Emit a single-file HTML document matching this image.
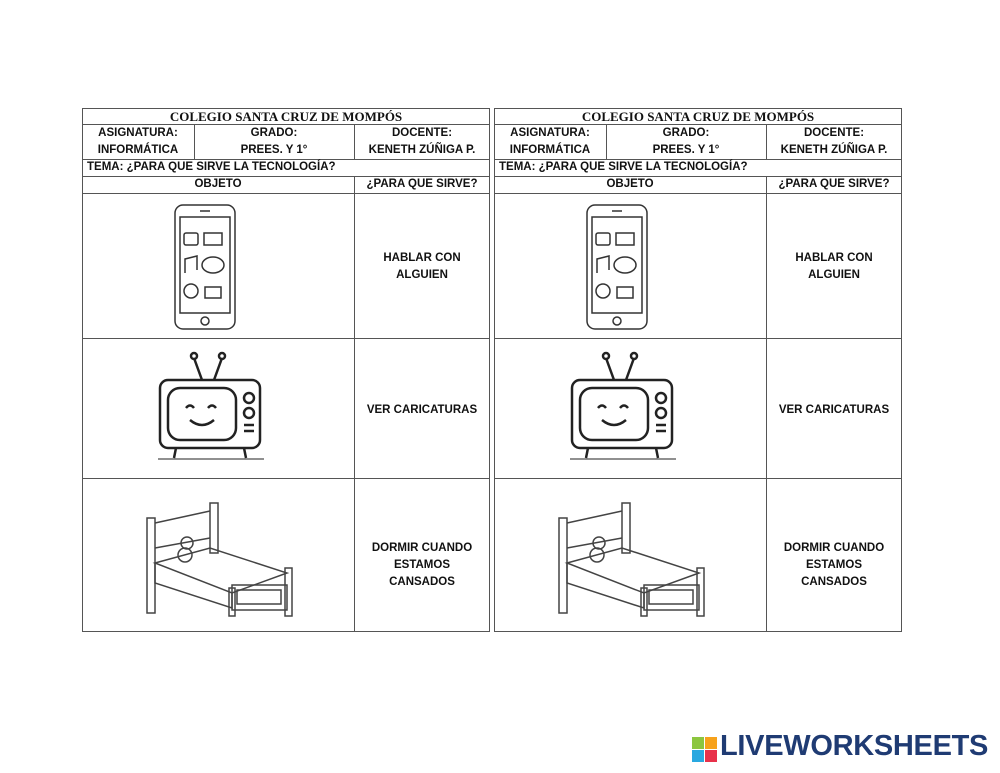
<!DOCTYPE html>
<html><head><meta charset="utf-8"><style>
body{margin:0;width:1000px;height:773px;background:#fff;position:relative;overflow:hidden;font-family:"Liberation Sans",Arial,sans-serif;}
.t{position:absolute;top:108px;width:408px;height:524px;}
.l{position:absolute;background:#555;}
.x{position:absolute;font-size:11.5px;font-weight:bold;color:#111;text-align:center;line-height:17px;}
.ti{font-family:"Liberation Serif",serif;font-size:13px;}
svg{position:absolute;}
.logo{position:absolute;font-size:29px;font-weight:900;color:#1f3b73;letter-spacing:-0.3px;}
</style></head><body>

<div class="t" style="left:82px">
 <div class="l" style="left:0;top:0;width:408px;height:1px"></div>
 <div class="l" style="left:0;top:16px;width:408px;height:1px"></div>
 <div class="l" style="left:0;top:51px;width:408px;height:1px"></div>
 <div class="l" style="left:0;top:68px;width:408px;height:1px"></div>
 <div class="l" style="left:0;top:85px;width:408px;height:1px"></div>
 <div class="l" style="left:0;top:230px;width:408px;height:1px"></div>
 <div class="l" style="left:0;top:370px;width:408px;height:1px"></div>
 <div class="l" style="left:0;top:523px;width:408px;height:1px"></div>
 <div class="l" style="left:0;top:0;width:1px;height:524px"></div>
 <div class="l" style="left:407px;top:0;width:1px;height:524px"></div>
 <div class="l" style="left:112px;top:16px;width:1px;height:35px"></div>
 <div class="l" style="left:272px;top:16px;width:1px;height:35px"></div>
 <div class="l" style="left:272px;top:68px;width:1px;height:456px"></div>
 <div class="x ti" style="left:0;top:0;width:408px;">COLEGIO SANTA CRUZ DE MOMPÓS</div>
 <div class="x" style="left:0;top:17px;width:112px;">ASIGNATURA:<br>INFORMÁTICA</div>
 <div class="x" style="left:112px;top:17px;width:160px;">GRADO:<br>PREES. Y 1°</div>
 <div class="x" style="left:272px;top:17px;width:136px;">DOCENTE:<br>KENETH ZÚÑIGA P.</div>
 <div class="x" style="left:5px;top:51px;text-align:left;">TEMA: ¿PARA QUE SIRVE LA TECNOLOGÍA?</div>
 <div class="x" style="left:0;top:68px;width:272px;">OBJETO</div>
 <div class="x" style="left:272px;top:68px;width:136px;">¿PARA QUE SIRVE?</div>
 <div class="x" style="left:272px;top:142px;width:136px;">HABLAR CON<br>ALGUIEN</div>
 <div class="x" style="left:272px;top:294px;width:136px;">VER CARICATURAS</div>
 <div class="x" style="left:272px;top:432px;width:136px;">DORMIR CUANDO<br>ESTAMOS<br>CANSADOS</div>
 <svg style="left:88px;top:95px" width="70" height="130" viewBox="0 0 70 130" fill="none" stroke="#333" stroke-width="1.5">
  <rect x="5" y="2" width="60" height="124" rx="8"/><rect x="10" y="14" width="50" height="96"/>
  <circle cx="35" cy="118" r="4"/><line x1="30" y1="8" x2="40" y2="8"/>
  <rect x="14" y="30" width="14" height="12" rx="2"/><rect x="34" y="30" width="18" height="12"/>
  <path d="M15 70 V56 L27 53 V67"/><ellipse cx="43" cy="62" rx="11" ry="8"/>
  <circle cx="21" cy="88" r="7"/><rect x="35" y="84" width="16" height="11"/>
 </svg>
 <svg style="left:74px;top:240px" width="110" height="115" viewBox="0 0 110 115" fill="none" stroke="#222" stroke-width="2.5">
  <line x1="46" y1="32" x2="38" y2="10"/><line x1="58" y1="32" x2="66" y2="10"/><circle cx="38" cy="8" r="3"/><circle cx="66" cy="8" r="3"/>
  <rect x="4" y="32" width="100" height="68" rx="8"/><rect x="12" y="40" width="68" height="52" rx="12"/>
  <circle cx="93" cy="50" r="5"/><circle cx="93" cy="65" r="5"/><line x1="88" y1="77" x2="98" y2="77"/><line x1="88" y1="83" x2="98" y2="83"/>
  <path d="M30 60 q4 -5 8 0 M52 60 q4 -5 8 0 M34 72 q12 10 24 0"/>
  <line x1="20" y1="100" x2="18" y2="110"/><line x1="88" y1="100" x2="90" y2="110"/><line x1="2" y1="111" x2="108" y2="111" stroke-width="1"/>
 </svg>
 <svg style="left:55px;top:385px" width="175" height="125" viewBox="0 0 175 125" fill="none" stroke="#444" stroke-width="1.5">
  <rect x="10" y="25" width="8" height="95"/><rect x="73" y="10" width="8" height="50"/>
  <line x1="18" y1="30" x2="73" y2="18"/><line x1="18" y1="55" x2="73" y2="45"/>
  <path d="M18 70 L73 55 L150 80 L95 100 Z"/><path d="M18 70 L18 90 L95 115 L95 100"/>
  <rect x="95" y="92" width="55" height="25"/><rect x="100" y="97" width="44" height="14"/>
  <rect x="148" y="75" width="7" height="48"/><rect x="92" y="95" width="6" height="28"/>
  <circle cx="50" cy="50" r="6"/><circle cx="48" cy="62" r="7"/>
 </svg>
</div>

<div class="t" style="left:494px">
 <div class="l" style="left:0;top:0;width:408px;height:1px"></div>
 <div class="l" style="left:0;top:16px;width:408px;height:1px"></div>
 <div class="l" style="left:0;top:51px;width:408px;height:1px"></div>
 <div class="l" style="left:0;top:68px;width:408px;height:1px"></div>
 <div class="l" style="left:0;top:85px;width:408px;height:1px"></div>
 <div class="l" style="left:0;top:230px;width:408px;height:1px"></div>
 <div class="l" style="left:0;top:370px;width:408px;height:1px"></div>
 <div class="l" style="left:0;top:523px;width:408px;height:1px"></div>
 <div class="l" style="left:0;top:0;width:1px;height:524px"></div>
 <div class="l" style="left:407px;top:0;width:1px;height:524px"></div>
 <div class="l" style="left:112px;top:16px;width:1px;height:35px"></div>
 <div class="l" style="left:272px;top:16px;width:1px;height:35px"></div>
 <div class="l" style="left:272px;top:68px;width:1px;height:456px"></div>
 <div class="x ti" style="left:0;top:0;width:408px;">COLEGIO SANTA CRUZ DE MOMPÓS</div>
 <div class="x" style="left:0;top:17px;width:112px;">ASIGNATURA:<br>INFORMÁTICA</div>
 <div class="x" style="left:112px;top:17px;width:160px;">GRADO:<br>PREES. Y 1°</div>
 <div class="x" style="left:272px;top:17px;width:136px;">DOCENTE:<br>KENETH ZÚÑIGA P.</div>
 <div class="x" style="left:5px;top:51px;text-align:left;">TEMA: ¿PARA QUE SIRVE LA TECNOLOGÍA?</div>
 <div class="x" style="left:0;top:68px;width:272px;">OBJETO</div>
 <div class="x" style="left:272px;top:68px;width:136px;">¿PARA QUE SIRVE?</div>
 <div class="x" style="left:272px;top:142px;width:136px;">HABLAR CON<br>ALGUIEN</div>
 <div class="x" style="left:272px;top:294px;width:136px;">VER CARICATURAS</div>
 <div class="x" style="left:272px;top:432px;width:136px;">DORMIR CUANDO<br>ESTAMOS<br>CANSADOS</div>
 <svg style="left:88px;top:95px" width="70" height="130" viewBox="0 0 70 130" fill="none" stroke="#333" stroke-width="1.5">
  <rect x="5" y="2" width="60" height="124" rx="8"/><rect x="10" y="14" width="50" height="96"/>
  <circle cx="35" cy="118" r="4"/><line x1="30" y1="8" x2="40" y2="8"/>
  <rect x="14" y="30" width="14" height="12" rx="2"/><rect x="34" y="30" width="18" height="12"/>
  <path d="M15 70 V56 L27 53 V67"/><ellipse cx="43" cy="62" rx="11" ry="8"/>
  <circle cx="21" cy="88" r="7"/><rect x="35" y="84" width="16" height="11"/>
 </svg>
 <svg style="left:74px;top:240px" width="110" height="115" viewBox="0 0 110 115" fill="none" stroke="#222" stroke-width="2.5">
  <line x1="46" y1="32" x2="38" y2="10"/><line x1="58" y1="32" x2="66" y2="10"/><circle cx="38" cy="8" r="3"/><circle cx="66" cy="8" r="3"/>
  <rect x="4" y="32" width="100" height="68" rx="8"/><rect x="12" y="40" width="68" height="52" rx="12"/>
  <circle cx="93" cy="50" r="5"/><circle cx="93" cy="65" r="5"/><line x1="88" y1="77" x2="98" y2="77"/><line x1="88" y1="83" x2="98" y2="83"/>
  <path d="M30 60 q4 -5 8 0 M52 60 q4 -5 8 0 M34 72 q12 10 24 0"/>
  <line x1="20" y1="100" x2="18" y2="110"/><line x1="88" y1="100" x2="90" y2="110"/><line x1="2" y1="111" x2="108" y2="111" stroke-width="1"/>
 </svg>
 <svg style="left:55px;top:385px" width="175" height="125" viewBox="0 0 175 125" fill="none" stroke="#444" stroke-width="1.5">
  <rect x="10" y="25" width="8" height="95"/><rect x="73" y="10" width="8" height="50"/>
  <line x1="18" y1="30" x2="73" y2="18"/><line x1="18" y1="55" x2="73" y2="45"/>
  <path d="M18 70 L73 55 L150 80 L95 100 Z"/><path d="M18 70 L18 90 L95 115 L95 100"/>
  <rect x="95" y="92" width="55" height="25"/><rect x="100" y="97" width="44" height="14"/>
  <rect x="148" y="75" width="7" height="48"/><rect x="92" y="95" width="6" height="28"/>
  <circle cx="50" cy="50" r="6"/><circle cx="48" cy="62" r="7"/>
 </svg>
</div>

<svg style="left:692px;top:737px" width="26" height="26">
 <rect x="0" y="0" width="12" height="12" fill="#8cc63f"/><rect x="13" y="0" width="12" height="12" fill="#f7a21b"/>
 <rect x="0" y="13" width="12" height="12" fill="#29a8e0"/><rect x="13" y="13" width="12" height="12" fill="#e8314a"/>
</svg>
<div class="logo" style="left:720px;top:730px">LIVEWORKSHEETS</div>
</body></html>
